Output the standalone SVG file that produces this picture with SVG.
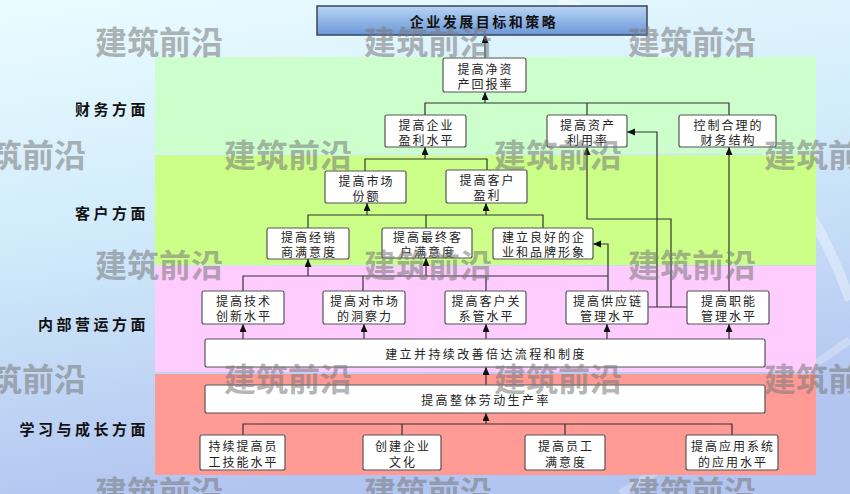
<svg xmlns="http://www.w3.org/2000/svg" width="850" height="494" viewBox="0 0 850 494">
<defs>
<linearGradient id="bg" x1="0" y1="0" x2="0.25" y2="1">
<stop offset="0" stop-color="#eafcff"/>
<stop offset="0.45" stop-color="#d2ecfb"/>
<stop offset="1" stop-color="#b2c4f0"/>
</linearGradient>
<linearGradient id="topfill" x1="0" y1="0" x2="0" y2="1">
<stop offset="0" stop-color="#b8d4f4"/>
<stop offset="1" stop-color="#6c98d8"/>
</linearGradient>
<marker id="ah" markerWidth="9" markerHeight="8" refX="8" refY="3.5" orient="auto" markerUnits="userSpaceOnUse">
<path d="M0,0 L8,3.5 L0,7 z" fill="#111"/>
</marker>
<style>
.node rect{fill:#fff;stroke:#555;stroke-width:1.2}
.node text{font-family:"Noto Sans CJK SC","Noto Sans",sans-serif;font-size:12px;fill:#222;letter-spacing:2px;text-anchor:middle;dominant-baseline:central}
.wide text{letter-spacing:2.4px}
.lbl{font-family:"Noto Sans CJK SC","Noto Sans",sans-serif;font-size:15px;font-weight:bold;fill:#111;letter-spacing:3.5px;text-anchor:end;dominant-baseline:central}
.wm{font-family:"Noto Sans CJK SC","Noto Sans",sans-serif;font-size:32px;font-weight:bold;fill:#7a7a7a;opacity:0.55}
#connectors path{fill:none;stroke:#333;stroke-width:1.2}
#connectors path.arr{marker-end:url(#ah)}
</style>
</defs>
<rect x="0" y="0" width="850" height="494" fill="url(#bg)"/>
<path d="M560,0 C700,60 800,160 850,300" fill="none" stroke="#ffffff" stroke-opacity="0.35" stroke-width="10"/>
<path d="M620,494 C740,420 820,360 850,340" fill="none" stroke="#ffffff" stroke-opacity="0.25" stroke-width="8"/>

<g id="bands">
<rect x="155" y="57" width="661" height="96" fill="#ccffcc"/>
<rect x="155" y="155" width="661" height="110" fill="#ccff88"/>
<rect x="155" y="266" width="661" height="106" fill="#ffccff"/>
<rect x="155" y="374" width="661" height="101" fill="#ff9a94"/>
</g>

<g id="labels">
<text class="lbl" x="149" y="108">财务方面</text>
<text class="lbl" x="149" y="212">客户方面</text>
<text class="lbl" x="149" y="323">内部营运方面</text>
<text class="lbl" x="149" y="428">学习与成长方面</text>
</g>

<g id="connectors">
<path class="arr" d="M485,58 V35"/>
<path d="M425,115 V103 H729 V115 M587,103 V115"/>
<path class="arr" d="M485,103 V92"/>
<path d="M365,171 V159 H487 V170"/>
<path class="arr" d="M425,159 V147"/>
<path d="M308,228 V215 H543 V228 M426,215 V228"/>
<path class="arr" d="M367,215 V203"/>
<path class="arr" d="M486,215 V203"/>
<path d="M243,291 V276 H608 M363,276 V291 M486,276 V291"/>
<path class="arr" d="M308,276 V259"/>
<path class="arr" d="M426,276 V258"/>
<path class="arr" d="M608,291 V244 H593"/>
<path d="M648,307 H687"/>
<path class="arr" d="M657,307 V132 H627"/>
<path class="arr" d="M671,307 V219 H587 V147"/>
<path class="arr" d="M729,291 V147"/>
<path class="arr" d="M243,339 V324"/>
<path class="arr" d="M364,339 V324"/>
<path class="arr" d="M486,339 V324"/>
<path class="arr" d="M607,339 V324"/>
<path class="arr" d="M729,339 V324"/>
<path class="arr" d="M486,385 V367"/>
<path d="M243,435 V424 H732 V435 M402,424 V435 M565,424 V435"/>
<path class="arr" d="M486,424 V413"/>
</g>

<g id="n0">
<rect x="317" y="6" width="330" height="29" fill="url(#topfill)" stroke="#3a4658" stroke-width="1.5"/>
<text x="484" y="21" font-family="'Noto Sans CJK SC','Noto Sans',sans-serif" font-size="14" font-weight="bold" fill="#111" letter-spacing="2.5" text-anchor="middle" dominant-baseline="central">企业发展目标和策略</text>
</g>
<g id="n1" class="node"><rect x="443" y="58" width="83" height="34" rx="2"/><text><tspan x="485.5" y="68">提高净资</tspan><tspan x="485.5" y="83">产回报率</tspan></text></g>
<g id="n2" class="node"><rect x="385" y="115" width="81" height="32" rx="2"/><text><tspan x="426.5" y="124">提高企业</tspan><tspan x="426.5" y="139">盈利水平</tspan></text></g>
<g id="n3" class="node"><rect x="547" y="115" width="80" height="32" rx="2"/><text><tspan x="588" y="124">提高资产</tspan><tspan x="588" y="139">利用率</tspan></text></g>
<g id="n4" class="node"><rect x="679" y="115" width="97" height="32" rx="2"/><text><tspan x="728.5" y="124">控制合理的</tspan><tspan x="728.5" y="139">财务结构</tspan></text></g>
<g id="n5" class="node"><rect x="325" y="171" width="81" height="32" rx="2"/><text><tspan x="366.5" y="180">提高市场</tspan><tspan x="366.5" y="195">份额</tspan></text></g>
<g id="n6" class="node"><rect x="446" y="170" width="81" height="33" rx="2"/><text><tspan x="487.5" y="179">提高客户</tspan><tspan x="487.5" y="194">盈利</tspan></text></g>
<g id="n7" class="node"><rect x="267" y="228" width="82" height="31" rx="2"/><text><tspan x="309" y="236">提高经销</tspan><tspan x="309" y="251">商满意度</tspan></text></g>
<g id="n8" class="node"><rect x="382" y="228" width="90" height="30" rx="2"/><text><tspan x="428" y="236">提高最终客</tspan><tspan x="428" y="251">户满意度</tspan></text></g>
<g id="n9" class="node"><rect x="493" y="228" width="100" height="31" rx="2"/><text><tspan x="544" y="236">建立良好的企</tspan><tspan x="544" y="251">业和品牌形象</tspan></text></g>
<g id="n10" class="node"><rect x="202" y="291" width="82" height="33" rx="2"/><text><tspan x="244" y="300">提高技术</tspan><tspan x="244" y="315">创新水平</tspan></text></g>
<g id="n11" class="node"><rect x="323" y="291" width="82" height="33" rx="2"/><text><tspan x="365" y="300">提高对市场</tspan><tspan x="365" y="315">的洞察力</tspan></text></g>
<g id="n12" class="node"><rect x="445" y="291" width="81" height="33" rx="2"/><text><tspan x="486.5" y="300">提高客户关</tspan><tspan x="486.5" y="315">系管水平</tspan></text></g>
<g id="n13" class="node"><rect x="566" y="291" width="82" height="33" rx="2"/><text><tspan x="608" y="300">提高供应链</tspan><tspan x="608" y="315">管理水平</tspan></text></g>
<g id="n14" class="node"><rect x="687" y="291" width="82" height="33" rx="2"/><text><tspan x="729" y="300">提高职能</tspan><tspan x="729" y="315">管理水平</tspan></text></g>
<g id="n15" class="node wide"><rect x="205" y="339" width="560" height="28" rx="2"/><text x="486" y="353">建立并持续改善倍达流程和制度</text></g>
<g id="n16" class="node wide"><rect x="205" y="385" width="560" height="28" rx="2"/><text x="486" y="399">提高整体劳动生产率</text></g>
<g id="n17" class="node"><rect x="200" y="435" width="85" height="35" rx="2"/><text><tspan x="243.5" y="445">持续提高员</tspan><tspan x="243.5" y="461">工技能水平</tspan></text></g>
<g id="n18" class="node"><rect x="363" y="435" width="78" height="35" rx="2"/><text><tspan x="403" y="445">创建企业</tspan><tspan x="403" y="461">文化</tspan></text></g>
<g id="n19" class="node"><rect x="525" y="435" width="80" height="35" rx="2"/><text><tspan x="566" y="445">提高员工</tspan><tspan x="566" y="461">满意度</tspan></text></g>
<g id="n20" class="node"><rect x="686" y="435" width="92" height="35" rx="2"/><text><tspan x="733" y="445">提高应用系统</tspan><tspan x="733" y="461">的应用水平</tspan></text></g>

<g id="watermarks">
<text class="wm" x="95" y="54">建筑前沿</text>
<text class="wm" x="364" y="54">建筑前沿</text>
<text class="wm" x="628" y="54">建筑前沿</text>
<text class="wm" x="-42" y="167">建筑前沿</text>
<text class="wm" x="224" y="167">建筑前沿</text>
<text class="wm" x="494" y="167">建筑前沿</text>
<text class="wm" x="764" y="167">建筑前沿</text>
<text class="wm" x="95" y="277">建筑前沿</text>
<text class="wm" x="364" y="277">建筑前沿</text>
<text class="wm" x="628" y="277">建筑前沿</text>
<text class="wm" x="-42" y="391">建筑前沿</text>
<text class="wm" x="224" y="391">建筑前沿</text>
<text class="wm" x="494" y="391">建筑前沿</text>
<text class="wm" x="764" y="391">建筑前沿</text>
<text class="wm" x="95" y="504">建筑前沿</text>
<text class="wm" x="364" y="504">建筑前沿</text>
<text class="wm" x="628" y="504">建筑前沿</text>
</g>
</svg>
